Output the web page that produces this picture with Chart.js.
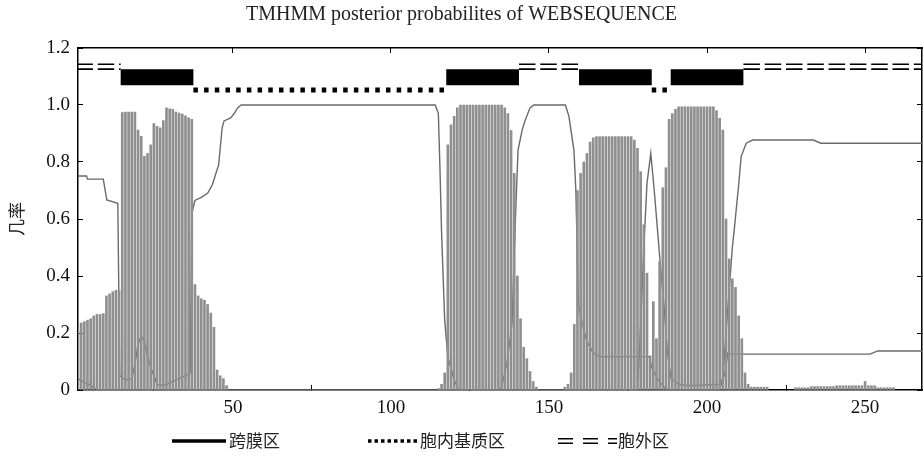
<!DOCTYPE html>
<html>
<head>
<meta charset="utf-8">
<script src="https://cdn.jsdelivr.net/npm/chart.js@4/dist/chart.umd.min.js"></script>
<style>
  html, body { margin: 0; padding: 0; background: #fff; }
  canvas { display: block; }
</style>
</head>
<body>
<canvas id="tmhmm" width="923" height="462"></canvas>
<script>
// TM 概率, 每个残基一个值 (1..268)
var tmProb = [
  0.21, 0.235, 0.24, 0.245, 0.25, 0.26, 0.265, 0.265, 0.268, 0.33,
  0.337, 0.345, 0.35, 0.35, 0.973, 0.975, 0.975, 0.975, 0.975, 0.912,
  0.89, 0.82, 0.83, 0.86, 0.935, 0.925, 0.92, 0.945, 0.99, 0.987,
  0.985, 0.975, 0.972, 0.968, 0.962, 0.955, 0.95, 0.37, 0.33, 0.32,
  0.315, 0.30, 0.27, 0.22, 0.07, 0.05, 0.04, 0.015, 0, 0,
  0, 0, 0, 0, 0, 0, 0, 0, 0, 0,
  0, 0, 0, 0, 0, 0, 0, 0, 0, 0,
  0, 0, 0, 0, 0, 0, 0, 0, 0, 0,
  0, 0, 0, 0, 0, 0, 0, 0, 0, 0,
  0, 0, 0, 0, 0, 0, 0, 0, 0, 0,
  0, 0, 0, 0, 0, 0, 0, 0, 0, 0,
  0, 0, 0, 0, 0.005, 0.02, 0.06, 0.86, 0.93, 0.96,
  0.99, 1, 1, 1, 1, 1, 1, 1, 1, 1,
  1, 1, 1, 1, 1, 0.99, 0.97, 0.91, 0.76, 0.40,
  0.25, 0.15, 0.11, 0.065, 0.03, 0.01, 0, 0, 0, 0,
  0, 0, 0, 0, 0.01, 0.02, 0.06, 0.23, 0.70, 0.76,
  0.80, 0.83, 0.87, 0.885, 0.889, 0.889, 0.889, 0.889, 0.889, 0.889,
  0.889, 0.889, 0.889, 0.889, 0.889, 0.889, 0.877, 0.848, 0.766, 0.58,
  0.41, 0.12, 0.31, 0.18, 0.45, 0.71, 0.78, 0.95, 0.97, 0.985,
  0.994, 0.994, 0.994, 0.994, 0.994, 0.994, 0.994, 0.994, 0.994, 0.994,
  0.994, 0.994, 0.98, 0.953, 0.912, 0.60, 0.46, 0.39, 0.36, 0.26,
  0.18, 0.06, 0.02, 0.01, 0.01, 0.01, 0.01, 0.01, 0.01, 0,
  0, 0, 0, 0, 0, 0, 0, 0.008, 0.008, 0.008,
  0.008, 0.008, 0.012, 0.012, 0.012, 0.012, 0.012, 0.012, 0.012, 0.012,
  0.015, 0.015, 0.015, 0.015, 0.015, 0.015, 0.015, 0.015, 0.015, 0.03,
  0.015, 0.015, 0.015, 0.008, 0.008, 0.008, 0.008, 0.008, 0.008, 0,
  0, 0, 0, 0, 0, 0, 0, 0
];

// 胞内概率曲线 (残基, 概率)
var insideRes = [1, 3.7, 4, 9, 10.1, 13.6, 14.2, 16, 18, 19, 20, 21, 22, 23, 24, 25, 26, 27, 29, 31, 33, 35, 36.5,
  37, 38, 40, 42, 43.5, 44.5, 45.5, 46, 46.6, 47.2, 49.3, 50.4, 51.5, 52.6, 114, 115, 115.5, 116, 117, 118, 120, 121.5,
  178, 179, 180, 181, 182.2, 183.3, 185, 186.5, 187.5, 188.6, 191, 194, 204, 205.5, 206.6, 208, 251.5, 252.5, 254, 268];
var insideProb = [0.751, 0.751, 0.74, 0.74, 0.667, 0.655, 0.05, 0.035, 0.04, 0.09, 0.16, 0.19, 0.17, 0.12, 0.08, 0.05, 0.02, 0.015, 0.02, 0.03, 0.04, 0.05, 0.06,
  0.62, 0.665, 0.676, 0.69, 0.72, 0.755, 0.79, 0.85, 0.92, 0.944, 0.955, 0.97, 0.99, 1.0, 1.0, 0.97, 0.78, 0.56, 0.245, 0.117, 0.035, 0,
  0, 0.23, 0.5, 0.725, 0.83, 0.7, 0.47, 0.28, 0.13, 0.04, 0.02, 0.015, 0.02, 0.05, 0.13, 0.126, 0.126, 0.13, 0.137, 0.137];

// 胞外概率曲线
var outsideRes = [1, 3.2, 4.8, 6.4, 7.5, 134, 135, 136.7, 138.3, 139.4, 140.2, 141.5, 142.5, 144, 145.2,
  155.2, 156.3, 157.9, 158.5, 159.3, 160.5, 162, 164, 166, 181.7, 182.5, 184.5, 186.5, 188,
  204, 205, 206, 207, 208, 208.7, 210, 210.8, 212.4, 214.4, 233.6, 236, 268];
var outsideProb = [0.04, 0.025, 0.018, 0.005, 0, 0, 0.01, 0.094, 0.234, 0.608, 0.842, 0.912, 0.947, 0.99, 1.0,
  1.0, 0.96, 0.84, 0.7, 0.3, 0.234, 0.17, 0.13, 0.117, 0.117, 0.08, 0.035, 0.01, 0,
  0, 0.04, 0.2, 0.35, 0.5, 0.573, 0.72, 0.82, 0.866, 0.877, 0.877, 0.866, 0.866];

// 预测拓扑 (残基区间)
var tmSegments = [[15, 37], [118, 140], [160, 182], [189, 211]];
var insideSegments = [[38, 117], [183, 188]];
var outsideSegments = [[1, 14], [141, 159], [212, 268]];

var xTickValues = [50, 100, 150, 200, 250];
var yTickValues = [0, 0.2, 0.4, 0.6, 0.8, 1.0, 1.2];
var yTickLabels = ['0', '0.2', '0.4', '0.6', '0.8', '1.0', '1.2'];
var legendLabels = ['跨膜区', '胞内基质区', '胞外区'];
var seqLength = 268;

function pairs(xs, ys) {
    return xs.map(function (x, i) { return { x: x, y: ys[i] }; });
}

function segLine(segs, level) {
    var out = [];
    segs.forEach(function (s) {
        out.push({ x: s[0] - 0.5, y: level }, { x: s[1] + 0.5, y: level }, { x: s[1] + 0.5, y: null });
    });
    return out;
}

var tmBars = [];
tmProb.forEach(function (v, i) {
    if (v > 0) tmBars.push({ x: i + 1, y: v });
});

function setTicks(values) {
    return function (scale) {
        scale.ticks = values.map(function (v) { return { value: v }; });
    };
}

var serif = 'Liberation Serif';
var cjk = 'Noto Sans CJK SC';

// 底部图例 (线型样本 + 文字)
var lineLegend = {
    id: 'lineLegend',
    afterDraw: function (chart) {
        var ctx = chart.ctx;
        var y = 441;
        var items = [
            { x0: 172, x1: 226, tx: 229, kind: 'solid' },
            { x0: 368, x1: 418, tx: 420, kind: 'dot' },
            { x0: 558, x1: 617, tx: 618, kind: 'double' }
        ];
        ctx.save();
        items.forEach(function (it, i) {
            ctx.strokeStyle = '#000';
            ctx.lineCap = 'butt';
            if (it.kind === 'solid') {
                ctx.setLineDash([]);
                ctx.lineWidth = 3.5;
                ctx.beginPath(); ctx.moveTo(it.x0, y); ctx.lineTo(it.x1, y); ctx.stroke();
            } else if (it.kind === 'dot') {
                ctx.setLineDash([3.5, 3]);
                ctx.lineWidth = 3.5;
                ctx.beginPath(); ctx.moveTo(it.x0, y); ctx.lineTo(it.x1, y); ctx.stroke();
            } else {
                ctx.setLineDash([15, 10]);
                ctx.lineWidth = 1.5;
                ctx.beginPath(); ctx.moveTo(it.x0, y - 2.3); ctx.lineTo(it.x1, y - 2.3); ctx.stroke();
                ctx.beginPath(); ctx.moveTo(it.x0, y + 2.3); ctx.lineTo(it.x1, y + 2.3); ctx.stroke();
            }
            ctx.setLineDash([]);
            ctx.fillStyle = '#222';
            ctx.font = '17px "' + cjk + '"';
            ctx.textBaseline = 'middle';
            ctx.textAlign = 'left';
            ctx.fillText(legendLabels[i], it.tx, y);
        });
        ctx.restore();
    }
};

var axisGrid = { drawOnChartArea: false, tickLength: -5, color: '#000', lineWidth: 1 };
var axisBorder = { color: '#000', width: 1.5 };

var chart = new Chart(document.getElementById('tmhmm'), {
    type: 'line',
    data: {
        datasets: [
            {
                type: 'bar', label: 'transmembrane', data: tmBars,
                backgroundColor: '#8f8f8f', borderWidth: 0, barThickness: 2,
                xAxisID: 'x', yAxisID: 'y', order: 1
            },
            {
                label: 'inside', data: pairs(insideRes, insideProb),
                borderColor: '#6a6a6a', borderWidth: 1.4, pointRadius: 0, tension: 0,
                xAxisID: 'x', yAxisID: 'y', order: 2
            },
            {
                label: 'outside', data: pairs(outsideRes, outsideProb),
                borderColor: '#6a6a6a', borderWidth: 1.4, pointRadius: 0, tension: 0,
                xAxisID: 'x', yAxisID: 'y', order: 2
            },
            {
                label: 'tm-topology', data: segLine(tmSegments, 1.097),
                borderColor: '#000', borderWidth: 16, borderCapStyle: 'butt', pointRadius: 0,
                xAxisID: 'x', yAxisID: 'y', order: 0
            },
            {
                label: 'inside-topology', data: segLine(insideSegments, 1.053),
                borderColor: '#000', borderWidth: 5, borderDash: [4.5, 6.2], borderCapStyle: 'butt', pointRadius: 0,
                xAxisID: 'x', yAxisID: 'y', order: 0
            },
            {
                label: 'outside-topology-a', data: segLine(outsideSegments, 1.143),
                borderColor: '#000', borderWidth: 1.6, borderDash: [16.5, 4.8], borderCapStyle: 'butt', pointRadius: 0,
                xAxisID: 'x', yAxisID: 'y', order: 0
            },
            {
                label: 'outside-topology-b', data: segLine(outsideSegments, 1.126),
                borderColor: '#000', borderWidth: 1.6, borderDash: [16.5, 4.8], borderCapStyle: 'butt', pointRadius: 0,
                xAxisID: 'x', yAxisID: 'y', order: 0
            }
        ]
    },
    options: {
        responsive: false,
        devicePixelRatio: 1,
        animation: false,
        layout: { padding: 0 },
        plugins: {
            legend: { display: false },
            tooltip: { enabled: false },
            title: {
                display: true,
                text: 'TMHMM posterior probabilites of WEBSEQUENCE',
                font: { family: serif, size: 20, weight: 'normal' },
                color: '#222',
                padding: { top: 3, bottom: 21 }
            }
        },
        scales: {
            x: {
                type: 'linear', position: 'bottom', min: 1, max: seqLength, offset: false,
                afterBuildTicks: setTicks(xTickValues),
                afterFit: function (s) { s.height = 72; },
                grid: axisGrid, border: axisBorder,
                ticks: { font: { family: serif, size: 19 }, color: '#111', padding: 12, maxRotation: 0, autoSkip: false }
            },
            x2: {
                type: 'linear', position: 'top', min: 1, max: seqLength, offset: false,
                afterBuildTicks: setTicks(xTickValues),
                afterFit: function (s) { s.height = 0; },
                grid: axisGrid, border: axisBorder,
                ticks: { display: false }
            },
            y: {
                type: 'linear', position: 'left', min: 0, max: 1.2,
                afterBuildTicks: setTicks(yTickValues),
                afterFit: function (s) { s.width = 78; },
                grid: axisGrid, border: axisBorder,
                ticks: {
                    font: { family: serif, size: 19 }, color: '#111', padding: 13,
                    callback: function (v, i) { return yTickLabels[i]; }
                },
                title: {
                    display: true, text: '几率', color: '#222',
                    font: { family: cjk, size: 17 }, padding: { top: 6, bottom: 0 }
                }
            },
            y2: {
                type: 'linear', position: 'right', min: 0, max: 1.2,
                afterBuildTicks: setTicks(yTickValues),
                afterFit: function (s) { s.width = 1; },
                grid: axisGrid, border: axisBorder,
                ticks: { display: false }
            }
        }
    },
    plugins: [lineLegend]
});
</script>
</body>
</html>
